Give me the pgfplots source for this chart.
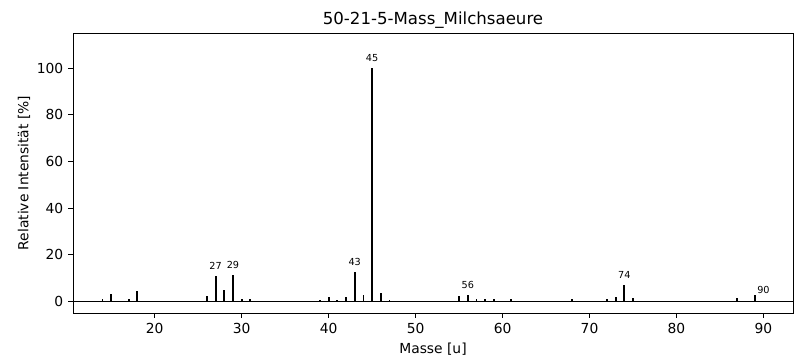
\documentclass[border=0pt]{standalone}
\usepackage{pgfplots}
\pgfplotsset{compat=1.18}
\usepackage{fontspec}
\setmainfont{DejaVu Sans}
\tikzset{lbl/.style={anchor=south, font=\fontsize{7}{8}\selectfont, inner sep=1bp, yshift=3.5bp}}
\begin{document}
\begin{tikzpicture}[x=1bp,y=1bp]
\path[use as bounding box] (-52.56bp,-36.72bp) rectangle (528.48bp,225.36bp);
\begin{axis}[
  at={(0,0)}, anchor=south west,
  scale only axis, width=518.4bp, height=201.6bp,
  xmin=10.6, xmax=93.4, ymin=-5, ymax=115,
  xtick={20,30,...,90}, ytick={0,20,...,100},
  tick align=outside, tick pos=left,
  major tick length=3.5bp,
  every tick/.style={black, line width=0.6bp},
  axis line style={line width=0.6bp},
  /pgf/number format/assume math mode=true,
  tick label style={font=\fontsize{10}{12}\selectfont},
  label style={font=\fontsize{10}{12}\selectfont},
  xlabel={Masse [u]}, ylabel={Relative Intensität [\%]},
  xlabel style={yshift=0bp}, ylabel style={yshift=-2bp},
  title={50-21-5-Mass\_Milchsaeure},
  title style={font=\fontsize{12}{14}\selectfont, yshift=-6.5bp},
  clip=false,
]
\addplot[black, line width=0.7bp, forget plot] coordinates {(10.6,0) (93.4,0)};
\addplot[ycomb, black, line width=1.3bp, mark=none] coordinates {
(14,1.0) (15,3.0) (17,1.2) (18,4.3) (26,2.1) (27,10.7) (28,4.7) (29,11.3) (30,1.2) (31,0.9)
(39,0.7) (40,1.7) (41,0.7) (42,1.7) (43,12.4) (44,2.7) (45,100) (46,3.6) (47,0.7)
(55,2.3) (56,2.7) (57,1.0) (58,1.0) (59,1.0) (61,1.2) (68,0.9) (72,0.9) (73,1.9) (74,6.9) (75,1.3)
(87,1.3) (89,2.7) (90,0.3)
};
\node[lbl] at (axis cs:27,10.7) {27};
\node[lbl] at (axis cs:29,11.3) {29};
\node[lbl] at (axis cs:43,12.4) {43};
\node[lbl] at (axis cs:45,100) {45};
\node[lbl] at (axis cs:56,2.7) {56};
\node[lbl] at (axis cs:74,6.9) {74};
\node[lbl] at (axis cs:90,0.3) {90};
\end{axis}
\end{tikzpicture}
\end{document}
